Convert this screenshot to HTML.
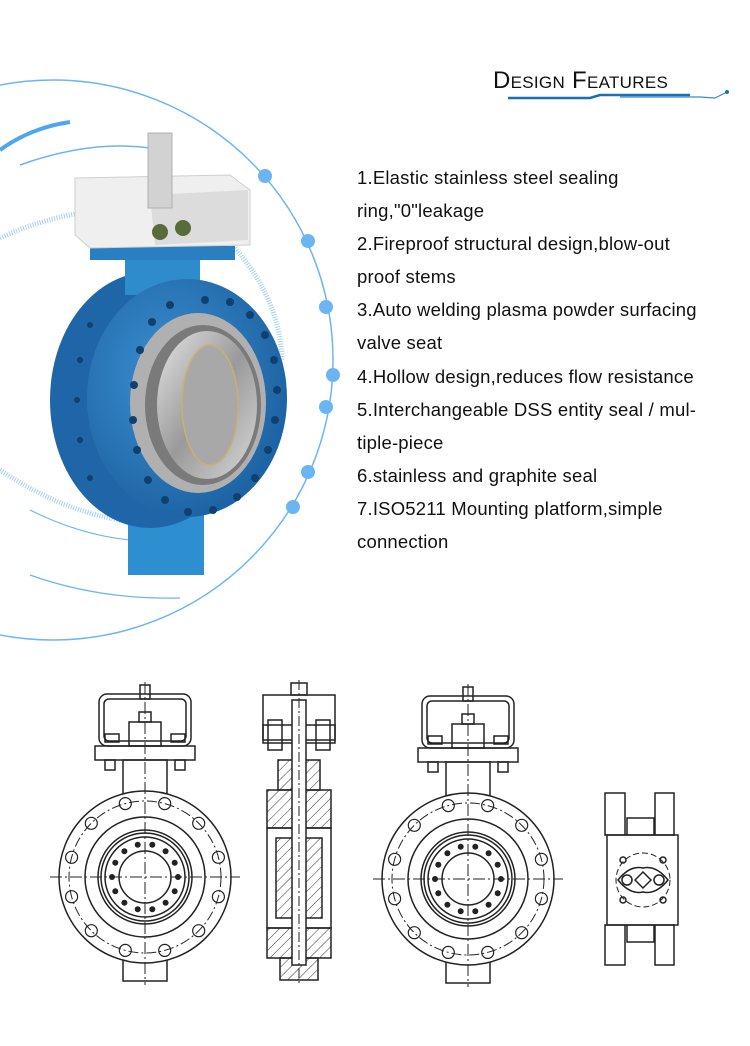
<!DOCTYPE html>
<html><head><meta charset="utf-8"><style>
html,body{margin:0;padding:0;background:#fff}
#p{position:relative;width:750px;height:1046px;overflow:hidden;background:#fff}
.t{position:absolute;left:357px;font-family:"Liberation Sans",sans-serif;font-size:18.5px;letter-spacing:0.2px;color:#111;white-space:nowrap;line-height:20px}
.h{position:absolute;left:493px;top:67px;font-family:"Liberation Sans",sans-serif;font-size:24px;font-variant:small-caps;color:#111;letter-spacing:0.3px}
svg{position:absolute;left:0;top:0}
</style></head><body><div id="p">
<svg width="750" height="1046" viewBox="0 0 750 1046">
<defs>
<g id="front" fill="none" stroke="#222" stroke-width="1.5">
<rect x="-22" y="-117" width="44" height="35" fill="#fff"/>
<rect x="-22" y="82" width="44" height="22" fill="#fff"/>
<rect x="-46" y="-183" width="92" height="52" rx="8"/>
<rect x="-41" y="-178" width="82" height="42" rx="5"/>
<rect x="-50" y="-131" width="100" height="14"/>
<rect x="-16" y="-155" width="32" height="24"/>
<rect x="-6" y="-165" width="12" height="10"/>
<rect x="-5" y="-192" width="10" height="14"/>
<rect x="-40" y="-143" width="14" height="8"/><rect x="26" y="-143" width="14" height="8"/>
<rect x="-40" y="-117" width="10" height="10"/><rect x="30" y="-117" width="10" height="10"/>
<circle r="86" fill="#fff"/>
<circle r="76" stroke-dasharray="10,3,2,3" stroke-width="1"/>
<circle r="60"/>
<circle r="47"/><circle r="44"/><circle r="40"/>
<circle r="26"/>
<g stroke-width="1.2">
<circle cx="73.4" cy="19.7" r="6"/><circle cx="73.4" cy="-19.7" r="6"/><circle cx="-73.4" cy="19.7" r="6"/><circle cx="-73.4" cy="-19.7" r="6"/>
<circle cx="53.7" cy="53.7" r="6"/><circle cx="53.7" cy="-53.7" r="6"/><circle cx="-53.7" cy="53.7" r="6"/><circle cx="-53.7" cy="-53.7" r="6"/>
<circle cx="19.7" cy="73.4" r="6"/><circle cx="19.7" cy="-73.4" r="6"/><circle cx="-19.7" cy="73.4" r="6"/><circle cx="-19.7" cy="-73.4" r="6"/>
</g>
<g fill="#222" stroke="none">
<circle cx="33" cy="0" r="3"/><circle cx="29.7" cy="14.3" r="3"/><circle cx="20.6" cy="25.8" r="3"/><circle cx="7.3" cy="32.2" r="3"/><circle cx="-7.3" cy="32.2" r="3"/><circle cx="-20.6" cy="25.8" r="3"/><circle cx="-29.7" cy="14.3" r="3"/><circle cx="-33" cy="0" r="3"/><circle cx="-29.7" cy="-14.3" r="3"/><circle cx="-20.6" cy="-25.8" r="3"/><circle cx="-7.3" cy="-32.2" r="3"/><circle cx="7.3" cy="-32.2" r="3"/><circle cx="20.6" cy="-25.8" r="3"/><circle cx="29.7" cy="-14.3" r="3"/>
</g>
<line x1="-95" y1="0" x2="95" y2="0" stroke-dasharray="12,3,2,3" stroke-width="1"/>
<line x1="0" y1="-195" x2="0" y2="108" stroke-dasharray="12,3,2,3" stroke-width="1"/>
</g>
<pattern id="hat" width="7" height="7" patternUnits="userSpaceOnUse" patternTransform="rotate(45)"><line x1="0" y1="0" x2="0" y2="7" stroke="#333" stroke-width="1"/></pattern>
<radialGradient id="blu" cx="0.4" cy="0.4" r="0.7"><stop offset="0" stop-color="#3b8fd0"/><stop offset="1" stop-color="#1a5e9e"/></radialGradient>
<linearGradient id="sil" x1="0" y1="0" x2="1" y2="1"><stop offset="0" stop-color="#e4e4e4"/><stop offset=".5" stop-color="#9a9a9a"/><stop offset="1" stop-color="#d8d8d8"/></linearGradient>
</defs>

<g fill="none" stroke="#6cb5f3">
<circle cx="53" cy="360" r="280" stroke-width="1.5"/>
<path d="M0 150 Q30 128 70 122" stroke-width="4" stroke="#4ea6ee"/>
<path d="M20 165 Q90 140 150 148" stroke-width="1.5"/>
<path d="M0 238 Q40 220 75 214" stroke-width="5" stroke="#9fd0f6" stroke-dasharray="1,1.5"/>
<path d="M235 248 Q280 300 282 360" stroke-width="5" stroke="#9fd0f6" stroke-dasharray="1,1.5"/>
<path d="M0 470 Q60 510 120 520" stroke-width="5" stroke="#9fd0f6" stroke-dasharray="1,1.5"/>
<path d="M30 510 Q80 535 130 540" stroke-width="1.2"/>
<path d="M30 575 Q100 600 180 598" stroke-width="1.2"/>
</g>
<g fill="#6cb5f3">
<circle cx="265" cy="176" r="7"/><circle cx="308" cy="241" r="7"/><circle cx="326" cy="307" r="7"/><circle cx="333" cy="375" r="7"/><circle cx="326" cy="407" r="7"/><circle cx="308" cy="472" r="7"/><circle cx="293" cy="507" r="7"/>
</g>

<rect x="128" y="505" width="76" height="70" fill="#2e8fd0"/>
<ellipse cx="150" cy="400" rx="100" ry="128" fill="#1f66a8"/>
<rect x="125" y="240" width="75" height="55" fill="#2f8ccc"/>
<rect x="90" y="246" width="145" height="14" fill="#2a7ec2"/>
<ellipse cx="187" cy="398" rx="100" ry="119" fill="url(#blu)"/>
<ellipse cx="198" cy="403" rx="68" ry="90" fill="#b0b0b0"/>
<ellipse cx="203" cy="405" rx="58" ry="80" fill="#7a7a7a"/>
<ellipse cx="207" cy="405" rx="50" ry="74" fill="url(#sil)"/>
<ellipse cx="210" cy="405" rx="28" ry="60" fill="#a8a8a8" stroke="#c9b070" stroke-width="1.5"/>
<g fill="#10406e">
<circle cx="205" cy="300" r="4"/><circle cx="230" cy="302" r="4"/><circle cx="250" cy="315" r="4"/><circle cx="265" cy="335" r="4"/><circle cx="274" cy="360" r="4"/><circle cx="277" cy="390" r="4"/><circle cx="275" cy="420" r="4"/><circle cx="268" cy="450" r="4"/><circle cx="255" cy="478" r="4"/><circle cx="237" cy="497" r="4"/><circle cx="213" cy="510" r="4"/><circle cx="188" cy="512" r="4"/><circle cx="165" cy="500" r="4"/><circle cx="148" cy="480" r="4"/><circle cx="137" cy="450" r="4"/><circle cx="133" cy="420" r="4"/><circle cx="134" cy="385" r="4"/><circle cx="140" cy="350" r="4"/><circle cx="152" cy="322" r="4"/><circle cx="170" cy="305" r="4"/>
<circle cx="90" cy="325" r="3"/><circle cx="80" cy="360" r="3"/><circle cx="77" cy="400" r="3"/><circle cx="80" cy="440" r="3"/><circle cx="90" cy="478" r="3"/>
</g>
<path d="M75 178 L230 175 L250 190 L250 245 L90 248 L75 235 Z" fill="#efefef" stroke="#cfcfcf"/>
<path d="M150 195 L248 190 L248 240 L155 245 Z" fill="#dcdcdc"/>
<rect x="148" y="133" width="24" height="75" fill="#d2d2d2" stroke="#b0b0b0"/>
<circle cx="160" cy="232" r="8" fill="#5a6b3a"/><circle cx="183" cy="228" r="8" fill="#5a6b3a"/>

<g stroke="#1a6fb7" fill="none">
<path d="M508 98 L590 98 L600 95 L690 95" stroke-width="2.5"/>
<path d="M620 97 L700 97 L715 98 L727 92" stroke-width="1.2" stroke="#3a8ad0"/>
<circle cx="727" cy="92" r="1.5" fill="#1a6fb7"/>
</g>

<use href="#front" x="145" y="877"/>
<use href="#front" x="468" y="879"/>

<g fill="none" stroke="#222" stroke-width="1.5">
<rect x="263" y="695" width="72" height="45"/>
<rect x="291" y="683" width="16" height="12"/>
<rect x="263" y="725" width="72" height="18"/>
<rect x="268" y="720" width="14" height="30"/><rect x="316" y="720" width="14" height="30"/>
<rect x="278" y="760" width="42" height="30" fill="url(#hat)"/>
<rect x="267" y="790" width="64" height="38" fill="url(#hat)"/>
<rect x="267" y="828" width="64" height="100"/>
<rect x="276" y="838" width="18" height="80" fill="url(#hat)"/>
<rect x="304" y="838" width="18" height="80" fill="url(#hat)"/>
<rect x="267" y="928" width="64" height="30" fill="url(#hat)"/>
<rect x="280" y="958" width="38" height="22" fill="url(#hat)"/>
<rect x="292" y="700" width="14" height="265" fill="#fff"/>
<line x1="299" y1="680" x2="299" y2="985" stroke-dasharray="10,3,2,3" stroke-width="1"/>
<rect x="605" y="793" width="20" height="42"/><rect x="655" y="793" width="19" height="42"/>
<rect x="627" y="818" width="27" height="17"/>
<rect x="607" y="835" width="71" height="90"/>
<rect x="605" y="925" width="20" height="40"/><rect x="655" y="925" width="19" height="40"/>
<rect x="627" y="925" width="27" height="17"/>
<circle cx="643" cy="880" r="27" stroke-dasharray="6,3" stroke-width="1"/>
<path d="M618 880 Q630 865 643 868 Q656 865 668 880 Q656 895 643 892 Q630 895 618 880 Z"/>
<circle cx="627" cy="880" r="5"/><circle cx="659" cy="880" r="5"/>
<path d="M643 872 L651 880 L643 888 L635 880 Z"/>
<circle cx="623" cy="860" r="3"/><circle cx="663" cy="860" r="3"/><circle cx="623" cy="900" r="3"/><circle cx="663" cy="900" r="3"/>
</g>
</svg>

<div class="h">Design Features</div>
<div class="t" style="top:168px">1.Elastic stainless steel sealing</div>
<div class="t" style="top:201px">ring,"0"leakage</div>
<div class="t" style="top:234px">2.Fireproof structural design,blow-out</div>
<div class="t" style="top:267px">proof stems</div>
<div class="t" style="top:300px">3.Auto welding plasma powder surfacing</div>
<div class="t" style="top:333px">valve seat</div>
<div class="t" style="top:367px">4.Hollow design,reduces flow resistance</div>
<div class="t" style="top:400px">5.Interchangeable DSS entity seal / mul-</div>
<div class="t" style="top:433px">tiple-piece</div>
<div class="t" style="top:466px">6.stainless and graphite seal</div>
<div class="t" style="top:499px">7.ISO5211 Mounting platform,simple</div>
<div class="t" style="top:532px">connection</div>
</div></body></html>
